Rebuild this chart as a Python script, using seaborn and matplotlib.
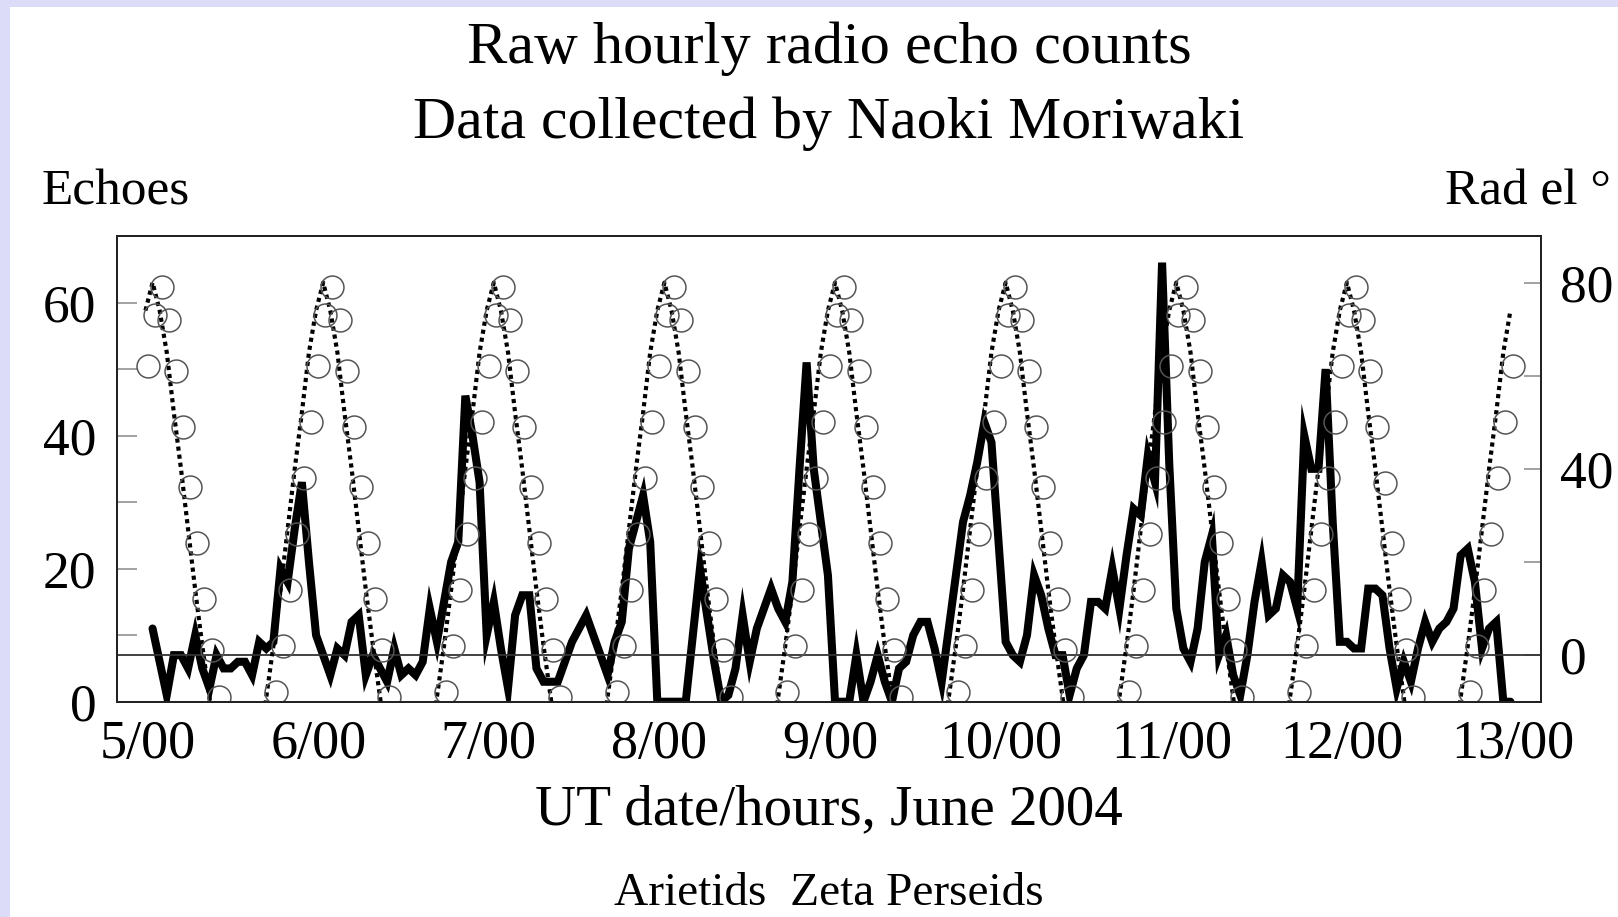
import numpy as np
import pandas as pd
import matplotlib
matplotlib.use("Agg")
import matplotlib.pyplot as plt
from matplotlib.patches import Rectangle
from matplotlib.ticker import FixedLocator
import seaborn as sns

# ---------------- data ----------------
# hourly raw echo counts, starting 5 June 00 UT
echo_counts = [
    11, 6, 1, 7, 7, 5, 10, 5, 2, 7,
    5, 5, 6, 6, 4, 9, 8, 9, 20, 18,
    26, 33, 21, 10, 7, 4, 8, 7, 12, 13,
    4, 7, 5, 3, 8, 4, 5, 4, 6, 14,
    9, 15, 21, 24, 46, 40, 33, 10, 15, 8,
    2, 13, 16, 16, 5, 3, 3, 3, 6, 9,
    11, 13, 10, 7, 4, 9, 12, 23, 27, 31,
    24, 0, 0, 0, 0, 0, 10, 20, 13, 6,
    0, 1, 5, 13, 6, 11, 14, 17, 14, 12,
    18, 35, 51, 35, 27, 19, 0, 0, 0, 7,
    0, 3, 7, 3, 0, 5, 6, 10, 12, 12,
    8, 3, 11, 19, 27, 31, 36, 42, 39, 24,
    9, 7, 6, 10, 19, 16, 11, 7, 7, 1,
    5, 7, 15, 15, 14, 20, 14, 22, 29, 28,
    37, 33, 66, 36, 14, 8, 6, 11, 21, 25,
    7, 10, 4, 1, 7, 15, 21, 13, 14, 19,
    18, 14, 40, 35, 35, 50, 27, 9, 9, 8,
    8, 17, 17, 16, 8, 2, 6, 3, 8, 12,
    9, 11, 12, 14, 22, 23, 18, 8, 11, 12,
    0, 0,
]
echo_hour_shift = 0.7

day_ticks = [0, 24, 48, 72, 96, 120, 144, 168, 192]
day_labels = ["5/00", "6/00", "7/00", "8/00", "9/00", "10/00", "11/00", "12/00", "13/00"]

# Arietids radiant elevation (deg), one list per visible pass, hourly
ari_pass_start = [-1, 15, 39, 63, 87, 111, 135, 159, 183]
ari_pass_elev = [
    [74, 80, 74, 65, 52, 40, 27, 14, 2, -9, -21],
    [-21, -9, 2, 14, 27, 40, 52, 65, 74, 80, 74, 65, 52, 40, 27, 14, 2, -9, -21],
    [-21, -9, 2, 14, 27, 40, 52, 65, 74, 80, 74, 65, 52, 40, 27, 14, 2, -9, -21],
    [-21, -9, 2, 14, 27, 40, 52, 65, 74, 80, 74, 65, 52, 40, 27, 14, 2, -9, -21],
    [-21, -9, 2, 14, 27, 40, 52, 65, 74, 80, 74, 65, 52, 40, 27, 14, 2, -9, -21],
    [-21, -9, 2, 14, 27, 40, 52, 65, 74, 80, 74, 65, 52, 40, 27, 14, 2, -9, -21],
    [-21, -9, 2, 14, 27, 40, 52, 65, 74, 80, 74, 65, 52, 40, 27, 14, 2, -9, -21],
    [-21, -9, 2, 14, 27, 40, 52, 65, 74, 80, 74, 65, 52, 40, 27, 14, 2, -9, -21],
    [-21, -9, 2, 14, 27, 40, 52, 65, 74],
]
ari_hour_shift = 0.7

# Zeta Perseids radiant elevation (deg), one list per visible pass, hourly
zp_pass_start = [0, 18, 42, 66, 90, 114, 138, 162, 186]
zp_pass_elev = [
    [62, 73, 79, 72, 61, 49, 36, 24, 12, 1, -9],
    [-8, 2, 14, 26, 38, 50, 62, 73, 79, 72, 61, 49, 36, 24, 12, 1, -9],
    [-8, 2, 14, 26, 38, 50, 62, 73, 79, 72, 61, 49, 36, 24, 12, 1, -9],
    [-8, 2, 14, 26, 38, 50, 62, 73, 79, 72, 61, 49, 36, 24, 12, 1, -9],
    [-8, 2, 14, 26, 38, 50, 62, 73, 79, 72, 61, 49, 36, 24, 12, 1, -9],
    [-8, 2, 14, 26, 38, 50, 62, 73, 79, 72, 61, 49, 36, 24, 12, 1, -9],
    [-8, 2, 14, 26, 38, 50, 62, 73, 79, 72, 61, 49, 36, 24, 12, 1, -9],
    [-8, 2, 14, 26, 38, 50, 62, 73, 79, 72, 61, 49, 37, 24, 12, 1, -9],
    [-8, 2, 14, 26, 38, 50, 62],
]

echo_ticks = [0, 20, 40, 60]
echo_minor = [10, 30, 50]
elev_ticks = [0, 40, 80]
elev_minor = [20, 60]

# ---------------- tables ----------------
echo_df = pd.DataFrame({
    "hour": np.arange(len(echo_counts)) + echo_hour_shift,
    "echoes": echo_counts,
})


def passes_to_df(starts, passes, shift):
    rows = []
    for p, (s, vals) in enumerate(zip(starts, passes)):
        for i, v in enumerate(vals):
            rows.append({"pass": p, "hour": s + i + shift, "elev": v})
    return pd.DataFrame(rows)


ari_df = passes_to_df(ari_pass_start, ari_pass_elev, ari_hour_shift)
zp_df = passes_to_df(zp_pass_start, zp_pass_elev, 0.0)

# ---------------- figure ----------------
sns.set_style("white")
plt.rcParams["font.family"] = ["Liberation Serif", "DejaVu Serif"]
plt.rcParams["text.color"] = "black"
plt.rcParams["axes.labelcolor"] = "black"
plt.rcParams["xtick.labelcolor"] = "black"
plt.rcParams["ytick.labelcolor"] = "black"

W, H = 1618, 917
fig = plt.figure(figsize=(W / 100, H / 100), dpi=100)
fig.patch.set_facecolor("#dcdcf8")
fig.add_artist(Rectangle((10 / W, 0), 1, 1 - 7 / H, transform=fig.transFigure,
                         facecolor="white", edgecolor="none", zorder=-5))

ax_l, ax_r, ax_t, ax_b = 117, 1541, 236, 701.7
ax = fig.add_axes([ax_l / W, 1 - ax_b / H, (ax_r - ax_l) / W, (ax_b - ax_t) / H])
ax.set_facecolor("white")

sns.lineplot(data=echo_df, x="hour", y="echoes", ax=ax, color="black",
             linewidth=5.8, estimator=None, sort=False, solid_joinstyle="miter")
ax.set_xlim(-4.3, 196)
ax.set_ylim(0, 70)

ax2 = ax.twinx()
ax2.axhline(0, color="#333333", linewidth=1.3, zorder=1)
sns.lineplot(data=ari_df, x="hour", y="elev", units="pass", estimator=None,
             sort=False, ax=ax2, color="black", linewidth=3.0,
             linestyle=(0, (1, 0.95)), dash_capstyle="butt")
sns.lineplot(data=zp_df, x="hour", y="elev", units="pass", estimator=None,
             sort=False, ax=ax2, color="#555555", linestyle="none", marker="o",
             markersize=16.5, markerfacecolor="none", markeredgecolor="#555555",
             markeredgewidth=1.1)
ax2.set_ylim(-10, 90)
ax.set_xlim(-4.3, 196)

# ticks
ax.set_xticks(day_ticks)
ax.set_xticklabels(day_labels)
ax.xaxis.set_minor_locator(FixedLocator(np.arange(0, 193, 1)))
ax.tick_params(axis="x", which="major", direction="in", length=13, width=1.1,
               color="#777777", labelsize=39, pad=13)
ax.tick_params(axis="x", which="minor", direction="in", length=5.5, width=1.0,
               color="#777777")
ax.set_yticks(echo_ticks)
ax.yaxis.set_minor_locator(FixedLocator(echo_minor))
ax.tick_params(axis="y", which="both", direction="in", length=14.4, width=1.1,
               color="#888888", labelsize=38.5, pad=15)
ax2.set_yticks(elev_ticks)
ax2.yaxis.set_minor_locator(FixedLocator(elev_minor))
ax2.tick_params(axis="y", which="both", direction="in", length=12.2, width=1.1,
                color="#888888", labelsize=38.5, pad=14)

for a in (ax, ax2):
    for s in a.spines.values():
        s.set_color("#222222")
        s.set_linewidth(1.4)
        s.set_visible(True)

# labels
ax.set_xlabel("UT date/hours, June 2004", fontsize=41, va="center")
ax.xaxis.set_label_coords(0.5, (ax_b - 810) / (ax_b - ax_t))
ax.set_ylabel("Echoes", rotation=0, fontsize=37, ha="left", va="center")
ax.yaxis.set_label_coords((42 - ax_l) / (ax_r - ax_l), (ax_b - 192) / (ax_b - ax_t))
ax2.set_ylabel("Rad el °", rotation=0, fontsize=37, ha="left", va="center")
ax2.yaxis.set_label_coords((1445 - ax_l) / (ax_r - ax_l), (ax_b - 192) / (ax_b - ax_t))

cx = (ax_l + ax_r) / 2 / W
fig.text(cx, 1 - 49 / H, "Raw hourly radio echo counts", ha="center", va="center", fontsize=43.5)
fig.text(cx, 1 - 124 / H, "Data collected by Naoki Moriwaki", ha="center", va="center", fontsize=43)
fig.text(cx, 1 - 894 / H, "Arietids  Zeta Perseids", ha="center", va="center", fontsize=34)

fig.savefig("out.png", dpi=100, facecolor=fig.get_facecolor())
